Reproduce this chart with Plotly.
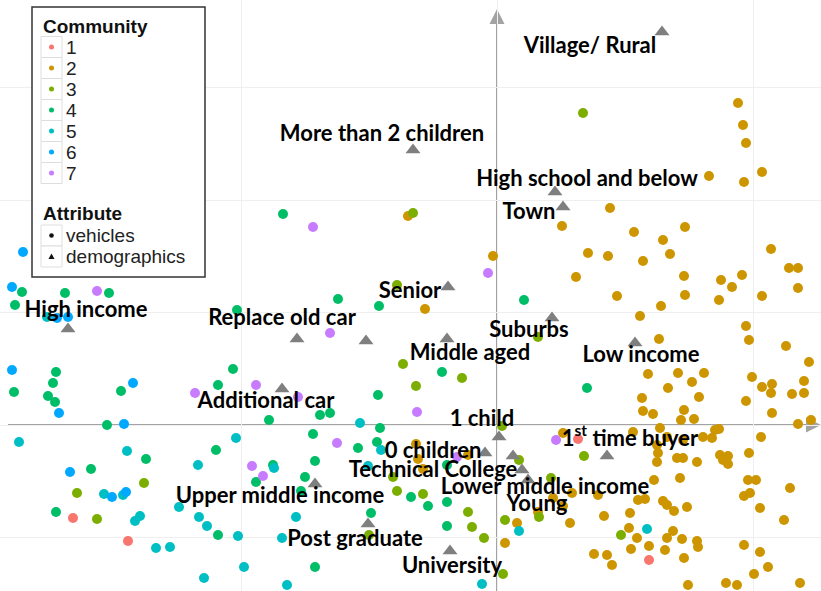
import plotly.graph_objects as go

# ---------------- data ----------------
communities = ["1", "2", "3", "4", "5", "6", "7"]
colors = ["#F8766D", "#CD9600", "#7CAE00", "#00BE67", "#00BFC4", "#00A9FF", "#C77CFF"]

c1_x = [0.81, -4.24, -3.69, 1.52]
c1_y = [-0.14, -0.93, -1.16, -1.35]

c2_x = [2.41, 2.46, 2.49, 2.65, 2.12, 2.47, -0.89, 1.13, 0.65, 1.37, 1.88, 1.66, 0.91, 1.11, 1.46, 1.73,
        2.74, -0.04, 0.79, 1.20, 1.87, 1.88, 2.24, 2.35, 2.45, 2.65, 2.22, 2.92, 3.01, 3.01, -0.72, 1.64,
        1.43, 2.49, 2.52, 2.89, 1.62, 3.12, 1.51, 1.81, 1.95, 2.07, 1.71, 2.55, 2.65, 2.75, 2.74, 2.95,
        3.07, 3.07, 1.45, 2.02, 2.49, 1.46, 1.56, 1.87, 1.84, 1.97, 2.75, 3.01, 3.14, 0.66, 1.36, 1.63,
        1.70, 1.86, 2.06, 2.18, 2.22, 2.15, 2.64, 2.52, 1.60, 1.61, 1.60, 1.80, 1.86, 2.00, 2.23, 2.31,
        2.26, 2.31, 1.83, 1.57, 1.41, 1.48, 1.66, 1.70, 1.77, 1.90, 2.51, 2.59, 2.47, 2.53, 2.93, 2.63,
        2.87, 1.01, 0.75, 0.56, 0.66, 0.41, 0.73, 0.20, 0.08, 1.33, 1.07, 1.32, 1.40, 1.70, 1.76, 1.85,
        2.00, 2.01, 1.52, 1.34, 1.68, 0.97, 1.10, 1.15, 1.87, 2.47, 2.63, 2.71, 2.57, 2.29, 2.40, 1.91,
        3.03, -0.81, -0.79, -0.74, -0.29]
c2_y = [3.22, 3.00, 2.82, 2.53, 2.49, 2.43, 2.09, 2.17, 1.99, 1.93, 1.98, 1.85, 1.72, 1.69, 1.64, 1.71,
        1.76, 1.69, 1.48, 1.29, 1.49, 1.30, 1.45, 1.38, 1.50, 1.29, 1.25, 1.57, 1.57, 1.37, 1.16, 1.19,
        1.09, 0.99, 0.85, 0.79, 0.86, 0.63, 0.51, 0.52, 0.43, 0.52, 0.37, 0.48, 0.38, 0.41, 0.32, 0.31,
        0.32, 0.44, 0.27, 0.28, 0.24, 0.14, 0.11, 0.15, 0.05, 0.06, 0.12, 0.01, 0.05, -0.08, -0.07, -0.03,
        -0.12, -0.15, -0.12, -0.05, -0.04, -0.13, -0.12, -0.28, -0.20, -0.28, -0.37, -0.33, -0.33, -0.37, -0.30, -0.31,
        -0.35, -0.39, -0.53, -0.55, -0.75, -0.74, -0.76, -0.80, -0.86, -0.82, -0.55, -0.55, -0.71, -0.68, -0.63, -0.83,
        -0.95, -0.70, -0.68, -0.73, -0.81, -0.87, -0.98, -0.98, -1.18, -0.88, -0.91, -1.03, -1.13, -1.13, -1.06, -1.14,
        -1.16, -1.22, -1.21, -1.24, -1.25, -1.29, -1.30, -1.40, -1.33, -1.20, -1.27, -1.42, -1.49, -1.58, -1.60, -1.60,
        -1.58, -0.19, -0.34, -0.44, -0.30]

c3_x = [0.86, -0.84, -1.00, 0.41, -0.94, -0.35, -0.81, 0.05, 0.87, 0.22, 0.54, 0.42, 0.08, 1.24, 0.06,
        -1.04, -1.00, -0.74, -0.29, -0.25, -0.13, -1.28, -3.53, -4.20, -4.00]
c3_y = [3.12, 2.12, 1.40, 0.88, 0.61, 0.47, 0.39, -0.01, -0.31, -0.35, -0.53, -0.92, -0.95, -1.10, -1.49,
        -0.52, -0.66, -0.69, -0.87, -1.02, -1.13, -1.10, -0.58, -0.68, -0.94]

c4_x = [-2.14, 0.27, -2.60, -1.59, -1.18, -0.55, 0.90, -4.75, -4.32, -3.88, -4.82, -4.41, -4.44, -4.83,
        -4.49, -4.42, -3.76, -2.64, -2.79, -1.19, -1.77, -1.67, -2.28, -3.90, -1.84, -1.17, -1.39, -1.20,
        -2.81, -3.51, -2.24, -1.82, -1.92, -2.41, -0.50, -4.06, -1.96, -0.86, -0.69, -0.50, -1.26, -0.50,
        -4.41, -2.79, -1.82]
c4_y = [2.11, 1.25, 1.15, 1.26, 1.19, 0.53, 0.37, 1.33, 1.32, 1.32, 1.20, 0.53, 0.42, 0.33,
        0.29, 0.23, 0.34, 0.56, 0.40, 0.30, 0.10, 0.12, 0.05, 0.00, -0.09, -0.03, -0.23, -0.17,
        -0.25, -0.34, -0.40, -0.36, -0.52, -0.57, -0.40, -0.44, -0.66, -0.72, -0.81, -0.77, -0.88, -1.01,
        -0.87, -1.10, -1.42]

c5_x = [-4.50, -4.78, -2.61, -1.37, -1.16, -3.70, -2.99, -2.23, -1.29, -3.93, -3.74, -3.18, -3.62, -3.57,
        -2.98, -2.90, -2.59, -2.01, -2.15, -3.41, -3.27, -2.53, -2.93, -2.10, 0.22, 1.50, -0.15]
c5_y = [1.08, -0.17, -0.13, 0.02, -0.25, -0.26, -0.40, -0.43, -0.41, -0.69, -0.70, -0.82, -0.96, -0.91,
        -0.92, -1.01, -1.11, -0.92, -1.13, -1.23, -1.22, -1.42, -1.53, -1.60, -1.06, -1.04, -1.59]

c6_x = [-4.74, -4.85, -4.40, -4.29, -4.85, -4.38, -3.64, -3.73, -4.27, -3.85, -3.71]
c6_y = [1.73, 1.38, 1.07, 1.08, 0.55, 0.12, 0.42, 0.01, -0.47, -0.72, -0.67]

c7_x = [-1.84, -0.09, -4.00, -1.67, -3.02, -2.41, -1.99, -0.80, -1.60, -2.45, -2.34, -0.40, 0.59]
c7_y = [1.98, 1.52, 1.34, 0.92, 0.32, 0.40, 0.28, 0.13, -0.18, -0.41, -0.51, -0.32, -0.15]

# demographic attributes: marker position and label position (None = no label shown)
demo_labels = ["Village/ Rural", "More than 2 children", "High school and below", "Town", "Senior",
               "Suburbs", "Middle aged", "Low income", "High income", "Replace old car", None,
               "Additional car", "1 child", "0 children", "Technical College", "Lower middle income",
               "Young", "1<sup>st</sup> time buyer", "Upper middle income", "Post graduate", "University"]
demo_x = [1.65, -0.84, 0.58, 0.66, -0.49, 0.55, -0.50, 1.38, -4.29, -2.00, -1.31,
          -2.15, 0.02, -0.12, 0.16, 0.25, 0.31, 1.10, -1.82, -1.29, -0.47]
demo_y = [3.93, 2.75, 2.33, 2.18, 1.38, 1.07, 0.86, 0.82, 0.96, 0.86, 0.84,
          0.36, -0.12, -0.28, -0.31, -0.45, -0.55, -0.31, -0.59, -0.99, -1.26]
label_x = [0.93, -1.15, 0.90, 0.32, -0.87, 0.32, -0.27, 1.44, -4.11, -2.15, None,
           -2.31, -0.15, -0.64, -0.64, 0.48, 0.40, 1.33, -2.17, -1.42, -0.45]
label_y = [3.78, 2.90, 2.45, 2.12, 1.33, 0.94, 0.71, 0.69, 1.14, 1.06, None,
           0.23, 0.05, -0.27, -0.46, -0.63, -0.80, -0.15, -0.72, -1.15, -1.42]

attribute_names = ["vehicles", "demographics"]

X_RANGE = [-4.97, 3.24]
Y_RANGE = [-1.66, 4.25]
W, H = 821, 591

fig = go.Figure()

series = [(c1_x, c1_y), (c2_x, c2_y), (c3_x, c3_y), (c4_x, c4_y),
          (c5_x, c5_y), (c6_x, c6_y), (c7_x, c7_y)]
for name, color, (xs, ys) in zip(communities, colors, series):
    fig.add_trace(go.Scatter(
        x=xs, y=ys, mode="markers", name=name, showlegend=False,
        marker=dict(color=color, size=10, symbol="circle", line=dict(width=0)),
    ))

fig.add_trace(go.Scatter(
    x=demo_x, y=demo_y, mode="markers", name="demographics", showlegend=False,
    marker=dict(color="#7f7f7f", size=13, symbol="triangle-up", line=dict(width=0)),
))

shown = [i for i, t in enumerate(demo_labels) if t]
fig.add_trace(go.Scatter(
    x=[label_x[i] for i in shown], y=[label_y[i] for i in shown],
    mode="text", text=[demo_labels[i] for i in shown], showlegend=False,
    textposition="middle center",
    textfont=dict(family="Lato", size=22, color="#000000", weight=700),
))


# helpers for placing decorations in figure pixel space
def px(v):
    return v / W


def py(v):
    return 1 - v / H


def tri_path(points):
    (x0, y0), (x1, y1), (x2, y2) = points
    return "M {} {} L {} {} L {} {} Z".format(px(x0), py(y0), px(x1), py(y1), px(x2), py(y2))


# axes through the origin with arrow heads
axis_grey = "#a3a3a3"
origin_px = ((0 - X_RANGE[0]) / (X_RANGE[1] - X_RANGE[0]) * W,
             (Y_RANGE[1] - 0) / (Y_RANGE[1] - Y_RANGE[0]) * H)
ox, oy = origin_px
shapes = [
    dict(type="line", xref="paper", yref="paper", x0=px(8), x1=px(808), y0=py(oy), y1=py(oy),
         line=dict(color=axis_grey, width=2), layer="below"),
    dict(type="line", xref="paper", yref="paper", x0=px(ox), x1=px(ox), y0=py(H), y1=py(22),
         line=dict(color=axis_grey, width=2), layer="below"),
    dict(type="path", xref="paper", yref="paper",
         path=tri_path([(806, oy - 7.5), (806, oy + 7.5), (821, oy)]),
         line=dict(width=0), fillcolor=axis_grey, layer="below"),
    dict(type="path", xref="paper", yref="paper",
         path=tri_path([(ox - 7.5, 24), (ox + 7.5, 24), (ox, 9)]),
         line=dict(width=0), fillcolor=axis_grey, layer="below"),
]
annotations = []

# legend box
leg_font = "Liberation Sans"
shapes.append(dict(type="rect", xref="paper", yref="paper", x0=px(32), x1=px(205), y0=py(7), y1=py(277),
                   line=dict(color="#333333", width=1.5), fillcolor="white", layer="above"))
annotations.append(dict(x=px(41), y=py(26), xref="paper", yref="paper", text="<b>Community</b>",
                        showarrow=False, xanchor="left", yanchor="middle",
                        font=dict(family=leg_font, size=19, color="#111111")))
row_h = 21
for i, (name, color) in enumerate(zip(communities, colors)):
    cy = 47 + row_h * i
    shapes.append(dict(type="rect", xref="paper", yref="paper", x0=px(41), x1=px(62),
                       y0=py(cy - 10.5), y1=py(cy + 10.5),
                       line=dict(color="#dedede", width=1), fillcolor="#ffffff", layer="above"))
    shapes.append(dict(type="circle", xref="paper", yref="paper", x0=px(49), x1=px(54),
                       y0=py(cy - 2.5), y1=py(cy + 2.5),
                       line=dict(width=0), fillcolor=color, layer="above"))
    annotations.append(dict(x=px(64), y=py(cy), xref="paper", yref="paper", text=name,
                            showarrow=False, xanchor="left", yanchor="middle",
                            font=dict(family=leg_font, size=19, color="#222222")))

annotations.append(dict(x=px(41), y=py(213), xref="paper", yref="paper", text="<b>Attribute</b>",
                        showarrow=False, xanchor="left", yanchor="middle",
                        font=dict(family=leg_font, size=19, color="#111111")))
for i, name in enumerate(attribute_names):
    cy = 235.5 + row_h * i
    shapes.append(dict(type="rect", xref="paper", yref="paper", x0=px(41), x1=px(62),
                       y0=py(cy - 10.5), y1=py(cy + 10.5),
                       line=dict(color="#dedede", width=1), fillcolor="#ffffff", layer="above"))
    if name == "vehicles":
        shapes.append(dict(type="circle", xref="paper", yref="paper", x0=px(49.2), x1=px(53.8),
                           y0=py(cy - 2.3), y1=py(cy + 2.3),
                           line=dict(width=0), fillcolor="#111111", layer="above"))
    else:
        shapes.append(dict(type="path", xref="paper", yref="paper",
                           path=tri_path([(48.5, cy + 2.5), (54.5, cy + 2.5), (51.5, cy - 3)]),
                           line=dict(width=0), fillcolor="#111111", layer="above"))
    annotations.append(dict(x=px(64), y=py(cy), xref="paper", yref="paper", text=name,
                            showarrow=False, xanchor="left", yanchor="middle",
                            font=dict(family=leg_font, size=19, color="#222222")))

fig.update_layout(
    width=W, height=H,
    margin=dict(l=0, r=0, t=0, b=0, pad=0),
    paper_bgcolor="white", plot_bgcolor="white",
    showlegend=False,
    shapes=shapes, annotations=annotations,
    xaxis=dict(range=X_RANGE, showticklabels=False, ticks="", zeroline=False,
               showgrid=True, gridcolor="#efefef", gridwidth=1, tick0=0, dtick=2.56,
               showline=False, fixedrange=True),
    yaxis=dict(range=Y_RANGE, showticklabels=False, ticks="", zeroline=False,
               showgrid=True, gridcolor="#efefef", gridwidth=1, tick0=0, dtick=1.125,
               showline=False, fixedrange=True),
)

fig.write_html("out.html")
